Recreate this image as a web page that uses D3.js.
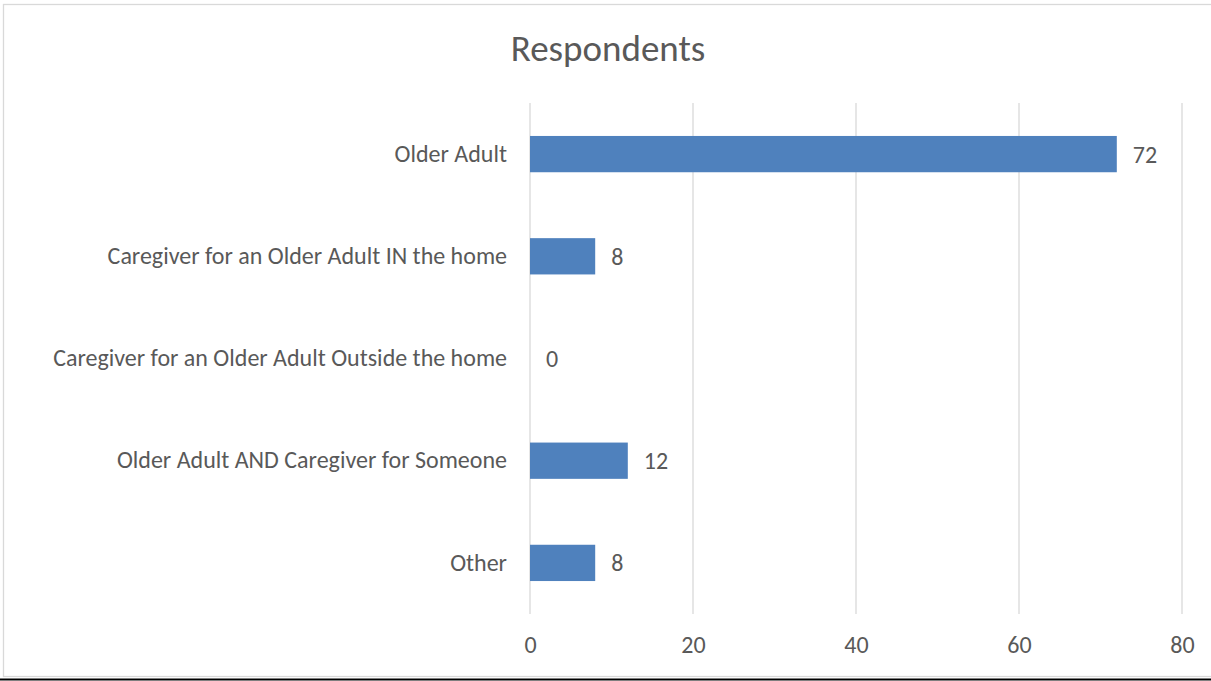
<!DOCTYPE html>
<html>
<head>
<meta charset="utf-8">
<script src="https://cdn.jsdelivr.net/npm/d3@7"></script>
<style>
  html, body { margin: 0; padding: 0; background: #fff; }
  svg { display: block; }
  text { font-family: Carlito, "Open Sans", sans-serif; fill: #595959; }
</style>
</head>
<body>
<svg id="chart" width="1211" height="681"></svg>
<script>
// Survey respondents by type
const categories = [
  "Older Adult",
  "Caregiver for an Older Adult IN the home",
  "Caregiver for an Older Adult Outside the home",
  "Older Adult AND Caregiver for Someone",
  "Other"
];
const counts = [72, 8, 0, 12, 8];
const xTicks = [0, 20, 40, 60, 80];
const chartTitle = "Respondents";

const svg = d3.select("#chart");
const W = 1211, H = 681;

// chart frame and bottom rule
svg.append("rect")
  .attr("x", 3.5).attr("y", 4.5)
  .attr("width", W + 10).attr("height", 672)
  .attr("fill", "#fff").attr("stroke", "#d9d9d9").attr("stroke-width", 1.3);
svg.append("line")
  .attr("x1", 0).attr("x2", W).attr("y1", 679.5).attr("y2", 679.5)
  .attr("stroke", "#000").attr("stroke-width", 2);

const plot = { left: 530, right: 1182, top: 103, bottom: 614 };

const x = d3.scaleLinear().domain([0, 80]).range([plot.left, plot.right]);
const y = d3.scaleBand()
  .domain(categories)
  .range([plot.top, plot.bottom])
  .paddingInner(0.645)
  .paddingOuter(0.3225);

// vertical gridlines
svg.append("g").selectAll("line")
  .data(xTicks).join("line")
  .attr("x1", d => x(d)).attr("x2", d => x(d))
  .attr("y1", plot.top).attr("y2", plot.bottom)
  .attr("stroke", "#d9d9d9").attr("stroke-width", 1.3);

// bottom axis tick labels
const xAxis = d3.axisBottom(x).tickValues(xTicks).tickSize(0).tickPadding(0);
const gx = svg.append("g")
  .attr("transform", `translate(0,${plot.bottom})`)
  .call(xAxis);
gx.select(".domain").remove();
gx.selectAll("text")
  .attr("dy", null).attr("y", 39)
  .style("font-size", "24px").attr("fill", "#595959");

// category labels
const yAxis = d3.axisLeft(y).tickSize(0).tickPadding(23);
const gy = svg.append("g")
  .attr("transform", `translate(${plot.left},0)`)
  .call(yAxis);
gy.select(".domain").remove();
gy.selectAll("text")
  .style("font-size", "24px").attr("fill", "#595959");

// bars
svg.append("g").selectAll("rect")
  .data(counts).join("rect")
  .attr("x", x(0))
  .attr("y", (d, i) => y(categories[i]))
  .attr("width", d => x(d) - x(0))
  .attr("height", y.bandwidth())
  .attr("fill", "#4f81bd");

// value labels
svg.append("g").selectAll("text")
  .data(counts).join("text")
  .attr("x", d => x(d) + 16)
  .attr("y", (d, i) => y(categories[i]) + y.bandwidth() / 2)
  .attr("dy", "0.35em")
  .style("font-size", "24px")
  .text(d => d);

// title
svg.append("text")
  .attr("x", 608).attr("y", 61)
  .attr("text-anchor", "middle")
  .style("font-size", "37px")
  .text(chartTitle);
</script>
</body>
</html>
